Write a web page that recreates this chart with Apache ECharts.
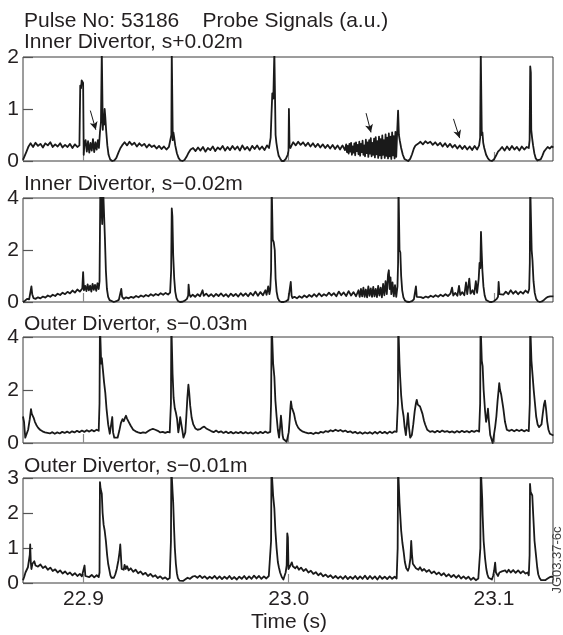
<!DOCTYPE html>
<html>
<head>
<meta charset="utf-8">
<script src="https://cdn.jsdelivr.net/npm/echarts@6/dist/echarts.min.js"></script>
<style>
html,body{margin:0;padding:0;background:#fff;}
#chart{width:563px;height:635px;}
</style>
</head>
<body>
<div id="chart"></div>
<script>
// ---- data ----
const chartTitle = 'Pulse No: 53186    Probe Signals (a.u.)';
const panelLabels = ['Inner Divertor, s+0.02m', 'Inner Divertor, s\u22120.02m', 'Outer Divertor, s\u22120.03m', 'Outer Divertor, s\u22120.01m'];
const xAxisTitle = 'Time (s)';
const timeMin = 22.8705;
const timeMax = 23.1288;
const timeTicks = [22.9, 23.0, 23.1];
const yMaxes = [2, 4, 4, 3];
const yIntervals = [1, 2, 2, 1];

const innerPlus002 = [
[22.8705,0.02],[22.8712,0.05],[22.8722,0.18],[22.8732,0.28],[22.8742,0.34],
[22.8754,0.27],[22.8766,0.35],[22.8778,0.29],[22.8790,0.33],[22.8802,0.26],[22.8814,0.34],[22.8826,0.30],[22.8838,0.36],[22.8850,0.27],[22.8862,0.32],[22.8874,0.28],[22.8886,0.34],[22.8898,0.26],[22.8910,0.31],[22.8922,0.27],[22.8934,0.33],[22.8946,0.25],[22.8958,0.32],[22.8970,0.27],[22.8980,0.30],
[22.8984,1.45],[22.8988,1.40],[22.8991,1.55],[22.8995,1.58],[22.8998,1.50],[22.9001,0.12],[22.9004,0.30],
[22.9010,0.40],[22.9016,0.18],[22.9022,0.38],[22.9028,0.16],[22.9034,0.35],[22.9040,0.20],[22.9046,0.42],[22.9052,0.17],[22.9058,0.36],[22.9064,0.22],[22.9070,0.40],[22.9075,0.25],
[22.9080,0.55],[22.9085,0.75],[22.9089,2.1],[22.9092,2.1],[22.9094,0.6],[22.9097,0.9],[22.9100,0.7],[22.9103,1.0],[22.9106,0.85],[22.9110,0.6],[22.9116,0.3],[22.9122,0.12],[22.9130,0.03],[22.9140,0.0],[22.9150,0.01],[22.9160,0.06],[22.9170,0.16],[22.9180,0.25],[22.9188,0.30],
[22.9200,0.36],[22.9212,0.30],[22.9224,0.37],[22.9236,0.31],[22.9248,0.35],[22.9260,0.28],[22.9272,0.34],[22.9284,0.29],[22.9296,0.33],[22.9308,0.26],[22.9320,0.32],[22.9332,0.27],[22.9344,0.30],[22.9356,0.24],[22.9368,0.29],[22.9380,0.23],[22.9392,0.28],[22.9404,0.22],[22.9416,0.27],[22.9424,0.24],
[22.9428,0.5],[22.9430,2.1],[22.9433,2.1],[22.9435,0.4],[22.9438,0.55],[22.9442,0.45],[22.9447,0.3],[22.9455,0.15],[22.9463,0.06],[22.9472,0.01],[22.9482,0.0],[22.9492,0.02],[22.9502,0.08],[22.9512,0.16],[22.9522,0.22],
[22.9534,0.25],[22.9546,0.19],[22.9558,0.26],[22.9570,0.20],[22.9582,0.27],[22.9594,0.18],[22.9606,0.25],[22.9618,0.21],[22.9630,0.28],[22.9642,0.19],[22.9654,0.26],[22.9666,0.22],[22.9678,0.29],[22.9690,0.20],[22.9702,0.27],[22.9714,0.21],[22.9726,0.29],[22.9738,0.22],[22.9750,0.28],[22.9762,0.20],[22.9774,0.30],[22.9786,0.22],[22.9798,0.27],[22.9810,0.20],[22.9822,0.29],[22.9834,0.23],[22.9846,0.30],[22.9858,0.22],[22.9870,0.28],[22.9882,0.21],[22.9894,0.30],[22.9904,0.25],
[22.9912,0.45],[22.9916,0.9],[22.9920,1.3],[22.9925,1.2],[22.9930,2.1],[22.9933,2.1],[22.9936,0.5],[22.9940,0.35],[22.9945,0.22],[22.9951,0.1],[22.9958,0.05],[22.9966,0.0],[22.9976,0.0],[22.9986,0.04],[22.9995,0.12],[22.9999,0.2],[23.0001,1.0],[23.0004,0.3],[23.0008,0.25],[23.0014,0.3],
[23.0022,0.36],[23.0034,0.30],[23.0046,0.37],[23.0058,0.31],[23.0070,0.36],[23.0082,0.29],[23.0094,0.35],[23.0106,0.28],[23.0118,0.34],[23.0130,0.27],[23.0142,0.33],[23.0154,0.26],[23.0166,0.32],[23.0178,0.25],[23.0190,0.31],[23.0202,0.24],[23.0214,0.31],[23.0226,0.23],[23.0238,0.30],[23.0250,0.22],[23.0262,0.30],[23.0274,0.21],
[23.0280,0.32],[23.0284,0.17],[23.0288,0.29],[23.0292,0.14],[23.0296,0.33],[23.0300,0.18],[23.0304,0.35],[23.0308,0.12],[23.0312,0.28],[23.0316,0.16],[23.0320,0.34],[23.0324,0.11],[23.0328,0.36],[23.0332,0.19],[23.0336,0.31],[23.0340,0.13],[23.0344,0.37],[23.0348,0.10],[23.0352,0.33],[23.0356,0.17],[23.0360,0.39],[23.0364,0.12],[23.0368,0.30],[23.0372,0.09],[23.0376,0.41],[23.0380,0.15],[23.0384,0.36],[23.0388,0.08],[23.0392,0.40],[23.0396,0.14],[23.0400,0.44],[23.0404,0.09],[23.0408,0.35],[23.0412,0.12],[23.0416,0.43],[23.0420,0.07],[23.0424,0.46],[23.0428,0.13],[23.0432,0.38],[23.0436,0.06],[23.0440,0.47],[23.0444,0.11],[23.0448,0.42],[23.0452,0.05],[23.0456,0.49],[23.0460,0.12],[23.0464,0.40],[23.0468,0.06],[23.0472,0.51],[23.0476,0.10],[23.0480,0.45],[23.0484,0.05],[23.0488,0.53],[23.0492,0.09],[23.0496,0.47],[23.0500,0.04],[23.0504,0.55],[23.0508,0.11],[23.0512,0.48],[23.0516,0.05],[23.0520,0.56],[23.0524,0.08],[23.0528,0.50],
[23.0533,0.97],[23.0537,0.5],[23.0541,0.4],[23.0548,0.25],[23.0556,0.12],[23.0564,0.04],[23.0572,0.01],[23.0582,0.0],[23.0592,0.04],[23.0601,0.13],[23.0610,0.24],[23.0618,0.30],
[23.0630,0.33],[23.0642,0.37],[23.0654,0.32],[23.0666,0.38],[23.0678,0.34],[23.0690,0.37],[23.0702,0.31],[23.0714,0.36],[23.0726,0.30],[23.0738,0.35],[23.0750,0.28],[23.0762,0.34],[23.0774,0.27],[23.0786,0.33],[23.0798,0.26],[23.0810,0.31],[23.0822,0.24],[23.0834,0.30],[23.0846,0.23],[23.0858,0.29],[23.0870,0.22],[23.0882,0.28],[23.0894,0.21],[23.0906,0.29],[23.0918,0.22],[23.0928,0.30],
[23.0933,0.45],[23.0936,2.1],[23.0939,2.1],[23.0941,0.5],[23.0944,0.55],[23.0948,0.35],[23.0953,0.25],[23.0962,0.12],[23.0971,0.05],[23.0980,0.01],[23.0990,0.0],[23.1000,0.03],[23.1010,0.10],[23.1020,0.18],[23.1030,0.22],
[23.1040,0.27],[23.1052,0.20],[23.1064,0.28],[23.1076,0.21],[23.1088,0.29],[23.1100,0.22],[23.1112,0.27],[23.1124,0.20],[23.1136,0.28],[23.1148,0.22],[23.1160,0.27],[23.1170,0.25],
[23.1174,0.4],[23.1177,1.82],[23.1180,1.7],[23.1182,0.6],[23.1186,0.45],[23.1191,0.3],[23.1197,0.15],[23.1204,0.05],[23.1212,0.01],[23.1220,0.0],[23.1228,0.03],[23.1236,0.10],[23.1244,0.18],[23.1252,0.22],[23.1262,0.27],[23.1272,0.24],[23.1282,0.28],[23.1290,0.26]
];

const innerMinus002 = [
[22.8705,0.0],[22.8715,0.05],[22.8725,0.12],[22.8735,0.1],[22.8742,0.15],[22.8746,0.6],[22.8750,0.3],[22.8756,0.15],
[22.8766,0.12],[22.8778,0.18],[22.8790,0.14],[22.8802,0.21],[22.8814,0.17],[22.8826,0.25],[22.8838,0.20],[22.8850,0.28],[22.8862,0.23],[22.8874,0.32],[22.8886,0.27],[22.8898,0.36],[22.8910,0.30],[22.8922,0.39],[22.8934,0.33],[22.8946,0.44],[22.8958,0.36],[22.8970,0.48],[22.8982,0.40],[22.8994,0.52],
[22.8998,1.15],[22.9002,0.45],
[22.9008,0.62],[22.9014,0.42],[22.9020,0.68],[22.9026,0.45],[22.9032,0.63],[22.9038,0.40],[22.9044,0.70],[22.9050,0.47],[22.9056,0.66],[22.9062,0.43],[22.9068,0.72],[22.9074,0.5],
[22.9078,0.8],[22.9082,4.5],[22.9088,4.5],[22.9091,3.0],[22.9095,4.5],[22.9100,4.5],[22.9104,2.5],[22.9109,1.2],[22.9114,0.5],[22.9120,0.2],[22.9127,0.07],[22.9136,0.02],[22.9148,0.0],[22.9160,0.03],[22.9172,0.08],[22.9180,0.12],[22.9184,0.5],[22.9188,0.2],
[22.9196,0.12],[22.9208,0.18],[22.9220,0.14],[22.9232,0.2],[22.9244,0.16],[22.9256,0.23],[22.9268,0.18],[22.9280,0.25],[22.9292,0.2],[22.9304,0.27],[22.9316,0.22],[22.9328,0.3],[22.9340,0.24],[22.9352,0.31],[22.9364,0.26],[22.9376,0.34],[22.9388,0.28],[22.9400,0.35],[22.9412,0.29],[22.9422,0.36],
[22.9427,1.2],[22.9430,3.6],[22.9433,3.3],[22.9437,1.8],[22.9442,0.9],[22.9447,0.4],[22.9453,0.15],[22.9460,0.04],[22.9470,0.0],[22.9482,0.01],[22.9494,0.05],[22.9504,0.12],[22.9510,0.25],[22.9512,0.67],[22.9516,0.3],[22.9522,0.2],
[22.9532,0.28],[22.9544,0.2],[22.9556,0.3],[22.9568,0.22],[22.9580,0.45],[22.9586,0.24],[22.9598,0.32],[22.9610,0.22],[22.9622,0.3],[22.9634,0.21],[22.9646,0.31],[22.9658,0.23],[22.9670,0.33],[22.9682,0.22],[22.9694,0.3],[22.9706,0.2],[22.9718,0.32],[22.9730,0.23],[22.9742,0.31],[22.9754,0.21],[22.9766,0.34],[22.9778,0.24],[22.9790,0.33],[22.9802,0.22],[22.9814,0.35],[22.9826,0.25],[22.9838,0.4],[22.9850,0.24],[22.9862,0.38],[22.9874,0.26],[22.9886,0.45],[22.9892,0.28],[22.9900,0.6],[22.9906,0.3],[22.9910,0.5],
[22.9914,1.2],[22.9917,4.5],[22.9920,4.5],[22.9922,2.4],[22.9927,2.3],[22.9932,2.0],[22.9936,0.9],[22.9941,0.4],[22.9947,0.15],[22.9954,0.04],[22.9964,0.0],[22.9976,0.0],[22.9988,0.03],[22.9998,0.1],[23.0006,0.15],[23.0010,0.77],[23.0014,0.25],[23.0018,0.15],
[23.0028,0.2],[23.0040,0.14],[23.0052,0.22],[23.0064,0.16],[23.0076,0.25],[23.0088,0.18],[23.0100,0.27],[23.0112,0.2],[23.0124,0.3],[23.0136,0.21],[23.0148,0.33],[23.0160,0.22],[23.0172,0.3],[23.0184,0.24],[23.0196,0.36],[23.0208,0.25],[23.0220,0.34],[23.0232,0.22],[23.0244,0.4],[23.0256,0.26],[23.0268,0.37],[23.0280,0.23],[23.0292,0.42],[23.0304,0.25],[23.0316,0.38],[23.0328,0.22],[23.0340,0.45],
[23.0346,0.2],[23.0352,0.5],[23.0358,0.22],[23.0364,0.55],[23.0370,0.2],[23.0376,0.48],[23.0382,0.18],[23.0388,0.6],[23.0394,0.24],[23.0400,0.52],[23.0406,0.2],[23.0412,0.58],[23.0418,0.22],[23.0424,0.5],[23.0430,0.19],[23.0436,0.62],[23.0442,0.25],[23.0448,0.55],[23.0454,0.18],[23.0460,0.7],[23.0466,0.26],[23.0472,0.8],[23.0478,0.3],[23.0484,1.05],[23.0488,1.22],[23.0492,0.5],[23.0496,0.95],[23.0500,0.3],[23.0506,0.75],[23.0512,0.22],[23.0518,0.65],[23.0524,0.2],[23.0530,0.6],
[23.0533,1.5],[23.0535,4.5],[23.0538,4.5],[23.0540,2.0],[23.0544,1.9],[23.0548,1.0],[23.0553,0.45],[23.0559,0.18],[23.0566,0.06],[23.0576,0.01],[23.0588,0.0],[23.0600,0.03],[23.0610,0.1],[23.0617,0.15],[23.0620,0.6],[23.0624,0.2],
[23.0632,0.14],[23.0644,0.19],[23.0656,0.15],[23.0668,0.21],[23.0680,0.17],[23.0692,0.24],[23.0704,0.19],[23.0716,0.26],[23.0728,0.2],[23.0740,0.28],[23.0752,0.22],[23.0764,0.3],[23.0776,0.23],[23.0788,0.32],[23.0796,0.55],[23.0802,0.25],[23.0812,0.35],[23.0822,0.24],[23.0830,0.62],[23.0836,0.27],[23.0846,0.38],[23.0856,0.26],[23.0864,0.75],[23.0870,0.3],[23.0880,0.9],[23.0886,0.32],[23.0896,0.45],[23.0904,0.3],[23.0912,0.8],[23.0918,0.35],[23.0926,0.9],
[23.0930,1.5],[23.0934,1.3],[23.0937,2.7],[23.0940,2.0],[23.0944,1.2],[23.0949,0.6],[23.0955,0.25],[23.0962,0.08],[23.0970,0.02],[23.0980,0.0],[23.0990,0.0],[23.1000,0.03],[23.1008,0.1],[23.1014,0.12],[23.1020,0.2],[23.1023,0.77],[23.1027,0.3],
[23.1034,0.35],[23.1046,0.28],[23.1058,0.4],[23.1070,0.3],[23.1082,0.45],[23.1094,0.32],[23.1106,0.42],[23.1118,0.3],[23.1130,0.4],[23.1142,0.32],[23.1154,0.44],[23.1166,0.35],[23.1172,0.5],
[23.1175,1.5],[23.1177,4.5],[23.1181,4.5],[23.1184,2.0],[23.1188,1.6],[23.1193,0.8],[23.1199,0.35],[23.1206,0.12],[23.1214,0.03],[23.1224,0.0],[23.1234,0.02],[23.1244,0.08],[23.1254,0.15],[23.1264,0.2],[23.1274,0.22],[23.1282,0.24],[23.1290,0.22]
];

const outerMinus003 = [
[22.8705,1.0],[22.8710,0.8],[22.8716,0.2],[22.8722,0.15],[22.8730,0.5],[22.8738,0.9],[22.8744,1.28],[22.8748,1.1],[22.8752,1.15],[22.8757,0.95],[22.8763,0.8],[22.8770,0.68],[22.8778,0.58],[22.8788,0.5],[22.8800,0.44],[22.8812,0.4],[22.8824,0.38],
[22.8836,0.36],[22.8848,0.41],[22.8860,0.35],[22.8872,0.4],[22.8884,0.36],[22.8896,0.42],[22.8908,0.38],[22.8920,0.43],[22.8932,0.38],[22.8944,0.44],[22.8956,0.4],[22.8968,0.46],[22.8980,0.41],[22.8992,0.47],[22.9004,0.42],[22.9016,0.48],[22.9028,0.43],[22.9040,0.49],[22.9052,0.44],[22.9064,0.5],[22.9074,0.46],
[22.9078,1.5],[22.9080,4.5],[22.9083,4.5],[22.9086,3.0],[22.9089,3.2],[22.9094,2.8],[22.9100,2.3],[22.9106,1.9],[22.9112,1.3],[22.9120,0.7],[22.9128,0.35],[22.9134,0.3],[22.9140,0.98],[22.9144,0.4],[22.9150,0.2],[22.9158,0.13],[22.9166,0.2],[22.9174,0.45],[22.9182,0.75],[22.9190,0.9],[22.9196,0.82],[22.9202,0.95],[22.9207,1.03],[22.9212,0.92],[22.9220,0.8],[22.9230,0.65],[22.9242,0.5],[22.9254,0.44],[22.9266,0.4],
[22.9278,0.37],[22.9290,0.4],[22.9302,0.38],[22.9314,0.44],[22.9326,0.5],[22.9338,0.53],[22.9350,0.5],[22.9362,0.46],[22.9374,0.4],[22.9386,0.42],[22.9398,0.38],[22.9410,0.42],[22.9420,0.4],
[22.9426,1.5],[22.9428,4.5],[22.9431,4.5],[22.9434,2.6],[22.9439,1.7],[22.9445,1.3],[22.9450,1.15],[22.9456,0.9],[22.9462,0.4],[22.9466,0.6],[22.9471,0.98],[22.9476,0.95],[22.9481,0.5],[22.9487,0.2],[22.9491,0.15],[22.9496,0.4],[22.9501,1.0],[22.9506,1.7],[22.9511,2.2],[22.9515,1.9],[22.9520,1.4],[22.9527,0.95],[22.9535,0.7],[22.9545,0.55],[22.9556,0.5],[22.9568,0.52],[22.9578,0.58],[22.9588,0.62],[22.9598,0.55],[22.9610,0.5],
[22.9622,0.45],[22.9634,0.41],[22.9646,0.47],[22.9658,0.4],[22.9670,0.44],[22.9682,0.38],[22.9694,0.43],[22.9706,0.37],[22.9718,0.42],[22.9730,0.36],[22.9742,0.41],[22.9754,0.37],[22.9766,0.42],[22.9778,0.36],[22.9790,0.41],[22.9802,0.36],[22.9814,0.4],[22.9826,0.35],[22.9838,0.41],[22.9850,0.36],[22.9862,0.42],[22.9874,0.37],[22.9886,0.43],[22.9898,0.38],[22.9910,0.42],
[22.9914,1.5],[22.9917,4.5],[22.9920,4.5],[22.9924,3.0],[22.9930,2.5],[22.9935,1.6],[22.9941,1.0],[22.9947,0.5],[22.9953,0.2],[22.9958,0.6],[22.9962,1.03],[22.9966,0.7],[22.9970,0.3],[22.9974,0.15],[22.9982,0.1],[22.9990,0.05],[22.9995,0.0],[23.0000,0.4],[23.0005,0.9],[23.0009,1.4],[23.0011,1.57],[23.0015,1.35],[23.0020,1.3],[23.0026,1.1],[23.0031,0.9],[23.0038,0.7],[23.0046,0.58],[23.0055,0.5],[23.0066,0.44],[23.0080,0.4],[23.0096,0.36],
[23.0108,0.38],[23.0120,0.34],[23.0132,0.39],[23.0144,0.36],[23.0156,0.42],[23.0168,0.39],[23.0180,0.45],[23.0192,0.42],[23.0204,0.48],[23.0216,0.44],[23.0228,0.5],[23.0240,0.45],[23.0252,0.49],[23.0264,0.43],[23.0276,0.47],[23.0288,0.41],[23.0300,0.44],[23.0312,0.38],[23.0324,0.42],[23.0336,0.36],[23.0348,0.41],[23.0360,0.35],[23.0372,0.4],[23.0384,0.36],[23.0396,0.41],[23.0408,0.35],[23.0420,0.42],[23.0432,0.36],[23.0444,0.43],[23.0456,0.37],[23.0468,0.42],[23.0480,0.36],[23.0492,0.43],[23.0504,0.38],[23.0516,0.44],[23.0526,0.42],
[23.0532,1.5],[23.0534,4.5],[23.0537,4.5],[23.0540,3.0],[23.0543,2.5],[23.0548,1.8],[23.0554,1.3],[23.0560,1.0],[23.0565,0.6],[23.0571,0.3],[23.0576,0.7],[23.0581,1.13],[23.0586,0.6],[23.0592,0.2],[23.0600,0.3],[23.0607,0.7],[23.0614,1.2],[23.0620,1.5],[23.0624,1.63],[23.0629,1.45],[23.0634,1.5],[23.0640,1.38],[23.0645,1.4],[23.0652,1.1],[23.0659,0.85],[23.0665,0.7],[23.0675,0.5],[23.0689,0.42],
[23.0700,0.45],[23.0712,0.4],[23.0724,0.46],[23.0736,0.41],[23.0748,0.47],[23.0760,0.42],[23.0772,0.45],[23.0784,0.4],[23.0796,0.44],[23.0808,0.39],[23.0820,0.45],[23.0832,0.4],[23.0844,0.46],[23.0856,0.41],[23.0868,0.45],[23.0880,0.4],[23.0892,0.46],[23.0904,0.42],[23.0916,0.47],[23.0928,0.43],
[23.0933,1.5],[23.0935,4.5],[23.0938,4.5],[23.0941,3.1],[23.0945,2.9],[23.0950,2.0],[23.0957,1.2],[23.0962,0.8],[23.0967,1.0],[23.0971,1.3],[23.0976,0.8],[23.0982,0.3],[23.0988,0.15],[23.0994,0.0],[23.1000,0.3],[23.1006,0.6],[23.1012,1.0],[23.1018,1.6],[23.1023,2.0],[23.1026,2.26],[23.1030,2.0],[23.1035,1.85],[23.1039,1.8],[23.1046,1.3],[23.1054,0.8],[23.1063,0.5],[23.1075,0.46],[23.1087,0.5],[23.1099,0.44],[23.1111,0.5],[23.1123,0.45],[23.1135,0.5],[23.1147,0.44],[23.1159,0.49],[23.1170,0.45],
[23.1175,1.5],[23.1177,4.5],[23.1180,4.5],[23.1183,3.1],[23.1188,2.6],[23.1194,2.0],[23.1200,1.5],[23.1206,1.0],[23.1213,0.7],[23.1220,0.6],[23.1226,0.55],[23.1232,0.7],[23.1238,1.1],[23.1244,1.45],[23.1249,1.6],[23.1254,1.3],[23.1260,0.8],[23.1266,0.5],[23.1273,0.35],[23.1282,0.3],[23.1290,0.28]
];

const outerMinus001 = [
[22.8705,0.08],[22.8711,0.18],[22.8717,0.3],[22.8723,0.25],[22.8729,0.45],[22.8734,0.5],[22.8738,0.8],[22.8740,1.1],[22.8743,0.6],[22.8746,0.4],[22.8751,0.55],[22.8756,0.5],[22.8760,0.62],[22.8766,0.5],
[22.8778,0.47],[22.8790,0.53],[22.8802,0.43],[22.8814,0.48],[22.8826,0.38],[22.8838,0.44],[22.8850,0.34],[22.8862,0.39],[22.8874,0.3],[22.8886,0.36],[22.8898,0.27],[22.8910,0.33],[22.8922,0.25],[22.8934,0.3],[22.8946,0.22],[22.8958,0.28],[22.8970,0.2],[22.8982,0.26],[22.8992,0.19],[22.8999,0.2],[22.9005,0.5],[22.9009,0.2],[22.9016,0.24],[22.9028,0.17],[22.9040,0.23],[22.9052,0.16],[22.9064,0.22],[22.9074,0.17],
[22.9078,0.3],[22.9080,2.88],[22.9083,2.7],[22.9086,2.75],[22.9089,2.55],[22.9093,2.0],[22.9098,1.66],[22.9103,1.5],[22.9109,1.2],[22.9115,0.8],[22.9120,0.55],[22.9125,0.4],[22.9131,0.22],[22.9136,0.15],[22.9141,0.1],[22.9148,0.15],[22.9155,0.25],[22.9162,0.4],[22.9170,0.65],[22.9176,0.9],[22.9179,1.1],[22.9182,0.8],[22.9186,0.4],[22.9191,0.45],[22.9196,0.38],[22.9200,0.52],
[22.9206,0.4],[22.9212,0.48],[22.9220,0.36],[22.9230,0.42],[22.9242,0.32],[22.9254,0.38],[22.9266,0.28],[22.9278,0.33],[22.9290,0.24],[22.9302,0.29],[22.9314,0.2],[22.9326,0.26],[22.9338,0.18],[22.9350,0.22],[22.9362,0.14],[22.9374,0.19],[22.9386,0.12],[22.9398,0.16],[22.9410,0.1],[22.9420,0.14],
[22.9426,1.2],[22.9428,3.3],[22.9431,3.3],[22.9434,2.6],[22.9437,2.3],[22.9441,1.6],[22.9445,1.0],[22.9450,0.55],[22.9455,0.28],[22.9460,0.14],[22.9467,0.07],[22.9475,0.04],[22.9485,0.06],[22.9495,0.1],[22.9507,0.15],[22.9519,0.12],[22.9531,0.18],
[22.9543,0.2],[22.9555,0.15],[22.9567,0.21],[22.9579,0.14],[22.9591,0.19],[22.9603,0.12],[22.9615,0.18],[22.9627,0.13],[22.9639,0.2],[22.9651,0.12],[22.9663,0.19],[22.9675,0.11],[22.9687,0.18],[22.9699,0.12],[22.9711,0.2],[22.9723,0.11],[22.9735,0.17],[22.9747,0.1],[22.9759,0.18],[22.9771,0.12],[22.9783,0.2],[22.9795,0.11],[22.9807,0.19],[22.9819,0.12],[22.9831,0.21],[22.9843,0.13],[22.9855,0.2],[22.9867,0.12],[22.9879,0.19],[22.9891,0.13],[22.9903,0.2],[22.9911,0.15],
[22.9914,1.2],[22.9916,3.3],[22.9920,3.3],[22.9924,2.5],[22.9930,2.13],[22.9935,1.5],[22.9941,0.99],[22.9947,0.6],[22.9952,0.45],[22.9958,0.3],[22.9966,0.17],[22.9974,0.1],[22.9980,0.15],[22.9985,0.3],[22.9990,0.5],[22.9993,1.42],[22.9996,1.3],[22.9999,0.4],[23.0003,0.35],[23.0008,0.5],[23.0012,0.45],[23.0015,0.59],[23.0020,0.48],
[23.0026,0.52],[23.0032,0.42],[23.0040,0.48],[23.0050,0.38],[23.0060,0.44],[23.0072,0.34],[23.0084,0.4],[23.0096,0.3],[23.0108,0.35],[23.0120,0.26],[23.0132,0.31],[23.0144,0.22],[23.0156,0.28],[23.0168,0.19],[23.0180,0.24],[23.0192,0.17],[23.0204,0.22],[23.0216,0.14],[23.0228,0.2],[23.0240,0.13],[23.0252,0.19],[23.0264,0.12],[23.0276,0.2],[23.0288,0.11],[23.0300,0.18],[23.0312,0.12],[23.0324,0.2],[23.0336,0.11],[23.0348,0.19],[23.0360,0.12],[23.0372,0.21],[23.0384,0.11],[23.0396,0.2],[23.0408,0.12],[23.0420,0.19],[23.0432,0.1],[23.0444,0.2],[23.0456,0.12],[23.0468,0.18],[23.0480,0.11],[23.0492,0.19],[23.0504,0.12],[23.0516,0.18],[23.0526,0.13],
[23.0531,1.0],[23.0533,3.3],[23.0537,3.3],[23.0540,2.3],[23.0543,2.0],[23.0548,1.5],[23.0554,1.15],[23.0560,0.9],[23.0566,0.6],[23.0573,0.42],[23.0581,0.35],[23.0587,0.45],[23.0593,0.7],[23.0597,1.2],[23.0601,0.8],[23.0605,0.55],[23.0608,0.5],[23.0614,0.55],[23.0620,0.42],[23.0624,0.45],
[23.0632,0.38],[23.0640,0.45],[23.0650,0.35],[23.0660,0.4],[23.0672,0.32],[23.0684,0.37],[23.0696,0.28],[23.0708,0.33],[23.0720,0.25],[23.0732,0.3],[23.0744,0.22],[23.0756,0.28],[23.0768,0.19],[23.0780,0.25],[23.0792,0.17],[23.0804,0.23],[23.0816,0.15],[23.0828,0.22],[23.0840,0.13],[23.0852,0.19],[23.0864,0.12],[23.0876,0.18],[23.0888,0.09],[23.0900,0.15],[23.0912,0.08],[23.0924,0.13],[23.0932,0.1],
[23.0934,1.0],[23.0936,3.3],[23.0940,3.3],[23.0943,2.4],[23.0945,1.94],[23.0950,1.2],[23.0957,0.7],[23.0963,0.4],[23.0968,0.25],[23.0974,0.15],[23.0982,0.1],[23.0990,0.1],[23.0996,0.2],[23.1001,0.35],[23.1006,0.58],[23.1010,0.3],[23.1015,0.25],[23.1020,0.2],[23.1027,0.3],[23.1033,0.26],[23.1039,0.33],[23.1047,0.28],[23.1055,0.36],[23.1063,0.3],[23.1072,0.38],[23.1082,0.3],[23.1094,0.37],[23.1106,0.29],[23.1118,0.36],[23.1130,0.28],[23.1142,0.34],[23.1154,0.27],[23.1164,0.3],[23.1170,0.22],
[23.1174,0.8],[23.1176,2.83],[23.1179,2.6],[23.1183,2.65],[23.1187,2.5],[23.1192,1.9],[23.1198,1.2],[23.1205,0.8],[23.1211,0.45],[23.1216,0.25],[23.1222,0.15],[23.1230,0.08],[23.1239,0.05],[23.1250,0.08],[23.1260,0.12],[23.1270,0.16],[23.1280,0.18],[23.1290,0.17]
];

// arrows drawn in panel 1 (data coordinates: [time, value])
const arrowStarts = [[22.9033, 0.97], [23.0377, 0.92], [23.0803, 0.81]];
const arrowEnds = [[22.9060, 0.60], [23.0401, 0.55], [23.0833, 0.44]];

const seriesData = [innerPlus002, innerMinus002, outerMinus003, outerMinus001];

// ---- layout ----
const FONT = 'Liberation Sans, Arial, Helvetica, sans-serif';
const TXT = '#231f20';
const gridTops = [57, 198, 337, 478];
const gridHeights = [104, 104, 106, 105];

const grids = [], xAxes = [], yAxes = [], series = [];
for (let i = 0; i < 4; i++) {
  grids.push({ left: 23, right: 10, top: gridTops[i], height: gridHeights[i],
    show: true, borderColor: '#3a3a3a', borderWidth: 1, backgroundColor: 'transparent' });
  const last = i === 3;
  xAxes.push({
    type: 'value', gridIndex: i, min: timeMin, max: timeMax,
    axisLine: { show: false },
    splitLine: { show: false },
    axisTick: { show: true, inside: true, length: 9, customValues: timeTicks, lineStyle: { color: '#8a8a8a', width: 1.2 } },
    axisLabel: { show: last, customValues: timeTicks, margin: 6, fontSize: 21, fontFamily: FONT, color: TXT,
      formatter: v => v.toFixed(1) }
  });
  yAxes.push({
    type: 'value', gridIndex: i, min: 0, max: yMaxes[i], interval: yIntervals[i],
    axisLine: { show: false },
    splitLine: { show: false },
    axisTick: { show: true, inside: true, length: 10, lineStyle: { color: '#555', width: 1.2 } },
    axisLabel: { margin: 4, fontSize: 21, fontFamily: FONT, color: TXT }
  });
  const s = {
    type: 'line', xAxisIndex: i, yAxisIndex: i, data: seriesData[i],
    showSymbol: false, symbol: 'none', clip: true, sampling: null,
    lineStyle: { color: '#1a1a1a', width: 1.8, join: 'round' },
    z: 3
  };
  if (i === 0) {
    s.markLine = {
      silent: true, symbol: ['none', 'arrow'], symbolSize: [6, 8],
      label: { show: false },
      lineStyle: { color: '#1a1a1a', width: 1, type: 'solid' },
      data: arrowStarts.map((a, k) => [{ coord: a }, { coord: arrowEnds[k] }])
    };
  }
  series.push(s);
}

const textEls = [
  { type: 'text', x: 24, y: 21, style: { text: chartTitle, fontSize: 21, fontFamily: FONT, fill: TXT, verticalAlign: 'middle', align: 'left' } },
  { type: 'text', x: 289, y: 622, style: { text: xAxisTitle, fontSize: 21, fontFamily: FONT, fill: TXT, verticalAlign: 'middle', align: 'center' } },
  { type: 'text', x: 557, y: 560, rotation: Math.PI / 2, style: { text: 'JG03.37-6c', fontSize: 13, fontFamily: FONT, fill: '#444', verticalAlign: 'middle', align: 'center' } }
];
const labelY = [42, 184, 324, 466];
panelLabels.forEach((t, i) => {
  textEls.push({ type: 'text', x: 24, y: labelY[i], style: { text: t, fontSize: 21, fontFamily: FONT, fill: TXT, verticalAlign: 'middle', align: 'left' } });
});

const chart = echarts.init(document.getElementById('chart'), null, { renderer: 'canvas' });
chart.setOption({
  animation: false,
  backgroundColor: '#fff',
  grid: grids,
  xAxis: xAxes,
  yAxis: yAxes,
  series: series,
  graphic: textEls
});
</script>
</body>
</html>
